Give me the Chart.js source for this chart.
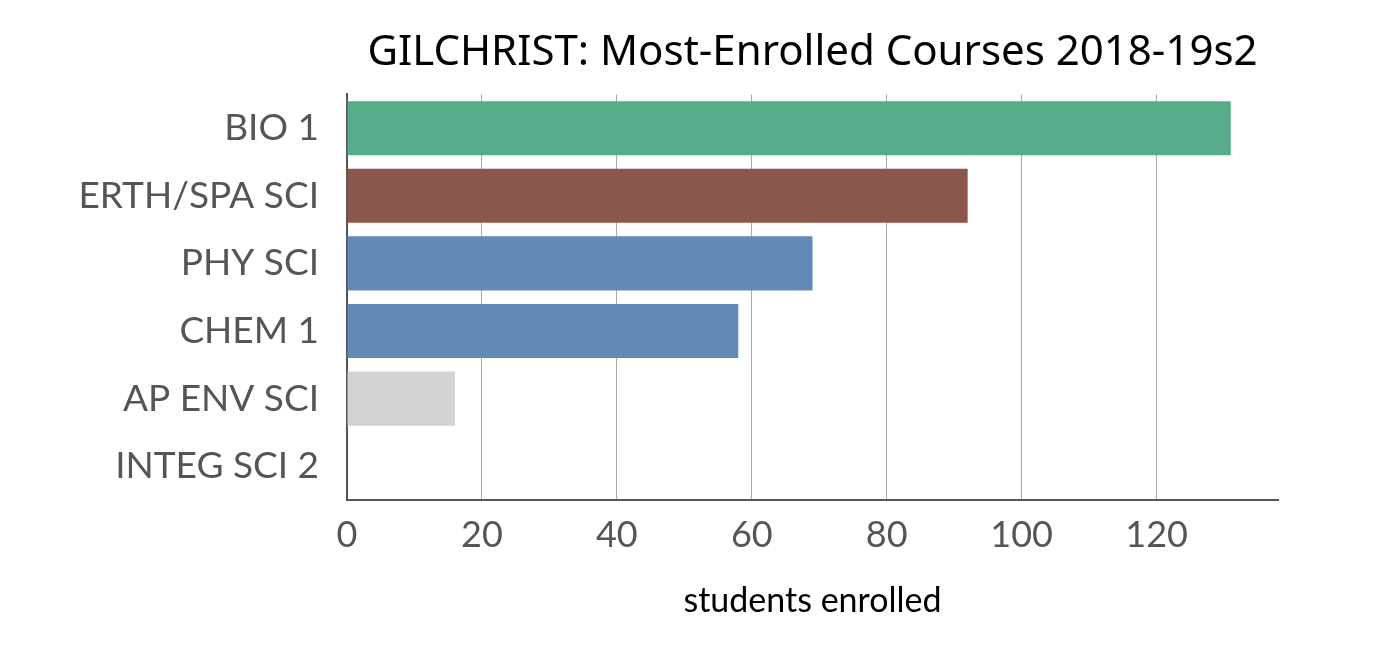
<!DOCTYPE html>
<html><head><meta charset="utf-8">
<script src="https://cdn.jsdelivr.net/npm/chart.js@4"></script>
<style>html,body{margin:0;padding:0;background:#fff}#w{width:1399px;height:657px}</style>
</head><body><div id="w"><canvas id="c"></canvas></div>
<script>
const categories = ["BIO 1","ERTH/SPA SCI","PHY SCI","CHEM 1","AP ENV SCI","INTEG SCI 2"];
const enrolled = [131, 92, 69, 58, 16, 0];
const barColors = ["#57ad89","#8b564b","#6389b5","#6389b5","#d3d3d3","#d3d3d3"];
const xTicks = [0,20,40,60,80,100,120];
const FONT = "Lato, 'Noto Sans', sans-serif";
new Chart(document.getElementById('c'), {
  type: 'bar',
  data: { labels: categories, datasets: [{ data: enrolled, backgroundColor: barColors, categoryPercentage: 1, barPercentage: 0.8 }] },
  options: {
    indexAxis: 'y', responsive: true, maintainAspectRatio: false, animation: false,
    layout: { padding: { left: 0, right: 121, top: 10, bottom: 32 } },
    plugins: {
      legend: { display: false }, tooltip: { enabled: false },
      title: { display: true, fullSize: false, text: "GILCHRIST: Most-Enrolled Courses 2018-19s2", color: "#000",
        font: { family: "'Noto Sans', sans-serif", size: 42, weight: 'normal' }, padding: { top: 18, bottom: 16 } }
    },
    scales: {
      x: { min: 0, max: 138,
        afterBuildTicks: s => { s.ticks = xTicks.map(v => ({ value: v })); },
        afterFit: s => { s.height = 125; },
        grid: { color: "#aaa", lineWidth: 1, drawTicks: false },
        border: { color: "#555", width: 2 },
        ticks: { color: "#555", font: { family: FONT, size: 36 }, padding: 14 },
        title: { display: true, text: "students enrolled", color: "#000", font: { family: FONT, size: 34 }, padding: { top: 0 } }
      },
      y: {
        afterFit: s => { s.width = 347; },
        grid: { display: false, drawTicks: false },
        border: { color: "#555", width: 2 },
        ticks: { color: "#555", font: { family: FONT, size: 37 }, padding: 28 }
      }
    }
  }
});
</script></body></html>
